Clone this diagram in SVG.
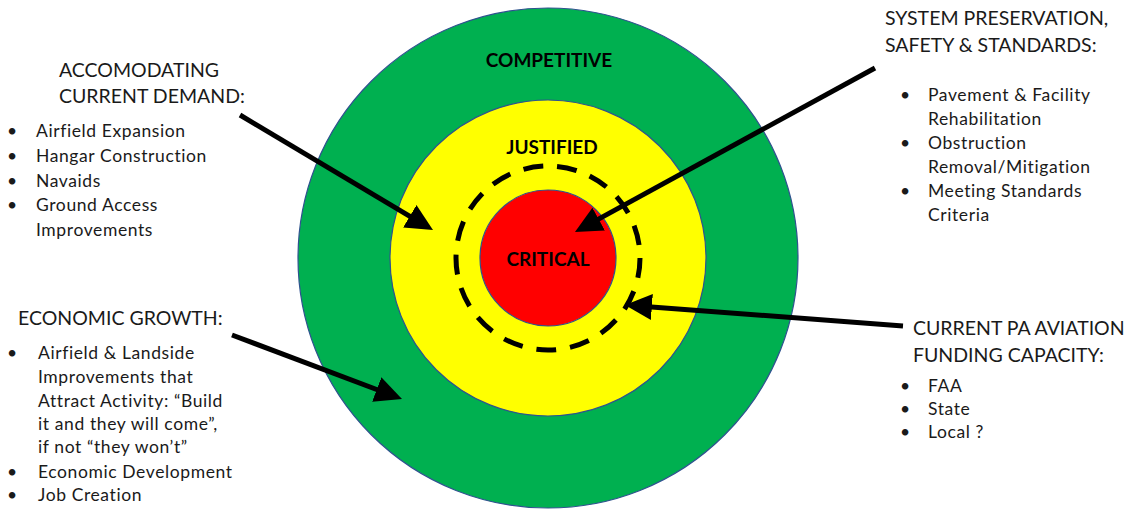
<svg xmlns="http://www.w3.org/2000/svg" width="1126" height="510" viewBox="0 0 1126 510">
<style>
.ring{stroke:#2F528F;stroke-width:1.2}
.lbl{font-family:Lato,"Open Sans",sans-serif;font-weight:bold;font-size:19px;fill:#000;text-anchor:middle}
.hd{font-family:Lato,"Open Sans",sans-serif;font-size:19.5px;fill:#1a1a1a}
.bt{font-family:Lato,"Open Sans",sans-serif;font-size:17.5px;letter-spacing:0.6px;fill:#1a1a1a}
.arr{stroke:#000;stroke-width:5;fill:none;marker-end:url(#ah)}
</style>
<defs>
<marker id="ah" markerUnits="userSpaceOnUse" markerWidth="28" markerHeight="28" refX="7" refY="13" orient="auto">
<path d="M0,0 L27,13 L0,26 z" fill="#000"/>
</marker>
</defs>
<rect width="1126" height="510" fill="#fff"/>
<g id="competitive">
<circle class="ring" cx="548" cy="258" r="250" fill="#00B050"/>
<text class="lbl" x="549" y="67">COMPETITIVE</text>
</g>
<g id="justified">
<circle class="ring" cx="548" cy="258" r="158" fill="#FFFF00"/>
<text class="lbl" x="552" y="154">JUSTIFIED</text>
</g>
<g id="capacity">
<circle cx="548" cy="258" r="92" fill="none" stroke="#000" stroke-width="5" stroke-dasharray="20 14"/>
</g>
<g id="critical">
<circle class="ring" cx="548" cy="258" r="68" fill="#FF0000"/>
<text class="lbl" x="548" y="266">CRITICAL</text>
</g>
<g id="connectors">
<line class="arr" x1="240" y1="115" x2="415.8" y2="219.8"/>
<line class="arr" x1="232" y1="335" x2="383.3" y2="392"/>
<line class="arr" x1="875" y1="68" x2="592.5" y2="222.4"/>
<line class="arr" x1="903" y1="326" x2="644.9" y2="306.5"/>
</g>
<g id="accommodating">
<text class="hd" x="59" y="77">ACCOMODATING</text>
<text class="hd" x="59" y="103">CURRENT DEMAND:</text>
<text class="bt" x="7" y="137">•</text><text class="bt" x="36" y="137">Airfield Expansion</text>
<text class="bt" x="7" y="162">•</text><text class="bt" x="36" y="162">Hangar Construction</text>
<text class="bt" x="7" y="187">•</text><text class="bt" x="36" y="187">Navaids</text>
<text class="bt" x="7" y="211">•</text><text class="bt" x="36" y="211">Ground Access</text>
<text class="bt" x="36" y="236">Improvements</text>
</g>
<g id="economic">
<text class="hd" x="18" y="325">ECONOMIC GROWTH:</text>
<text class="bt" x="7" y="359">•</text><text class="bt" x="38" y="359">Airfield &amp; Landside</text>
<text class="bt" x="38" y="383">Improvements that</text>
<text class="bt" x="38" y="406.5">Attract Activity: “Build</text>
<text class="bt" x="38" y="430">it and they will come”,</text>
<text class="bt" x="38" y="453">if not “they won’t”</text>
<text class="bt" x="7" y="478">•</text><text class="bt" x="38" y="478">Economic Development</text>
<text class="bt" x="7" y="501">•</text><text class="bt" x="38" y="501">Job Creation</text>
</g>
<g id="preservation">
<text class="hd" x="885" y="25">SYSTEM PRESERVATION,</text>
<text class="hd" x="885" y="52">SAFETY &amp; STANDARDS:</text>
<text class="bt" x="900" y="101">•</text><text class="bt" x="928" y="101">Pavement &amp; Facility</text>
<text class="bt" x="928" y="125">Rehabilitation</text>
<text class="bt" x="900" y="149">•</text><text class="bt" x="928" y="149">Obstruction</text>
<text class="bt" x="928" y="173">Removal/Mitigation</text>
<text class="bt" x="900" y="197">•</text><text class="bt" x="928" y="197">Meeting Standards</text>
<text class="bt" x="928" y="221">Criteria</text>
</g>
<g id="funding">
<text class="hd" x="913" y="335">CURRENT PA AVIATION</text>
<text class="hd" x="913" y="362">FUNDING CAPACITY:</text>
<text class="bt" x="900" y="392">•</text><text class="bt" x="928" y="392">FAA</text>
<text class="bt" x="900" y="415">•</text><text class="bt" x="928" y="415">State</text>
<text class="bt" x="900" y="438">•</text><text class="bt" x="928" y="438">Local ?</text>
</g>
</svg>
